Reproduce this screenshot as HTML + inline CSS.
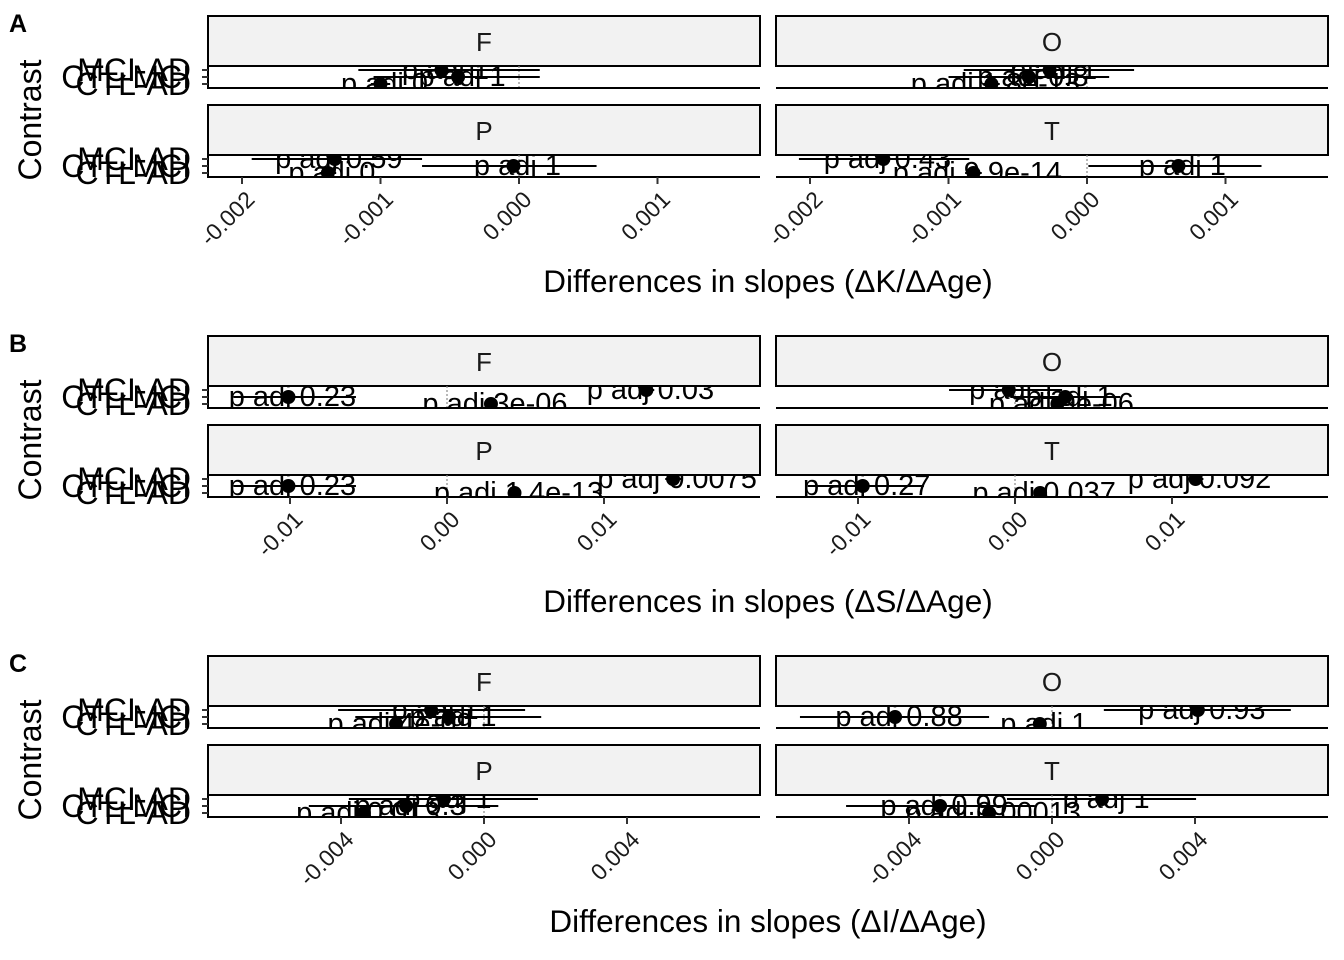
<!DOCTYPE html>
<html><head><meta charset="utf-8"><style>
html,body{margin:0;padding:0;background:#fff;}
svg{display:block;font-family:"Liberation Sans",Arial,sans-serif;}
</style></head><body>
<svg id="chart" width="1344" height="960" viewBox="0 0 1344 960" xmlns="http://www.w3.org/2000/svg"></svg>
<script>
// Categories (top to bottom rows)
const contrasts = ["MCI-AD", "CTL-MCI", "CTL-AD"];
const facets = ["F", "O", "P", "T"];
const sections = ["A", "B", "C"];
const axisTitles = ["Differences in slopes (\u0394K/\u0394Age)", "Differences in slopes (\u0394S/\u0394Age)", "Differences in slopes (\u0394I/\u0394Age)"];
const tickValsA = [-0.002, -0.001, 0.000, 0.001];
const tickLabelsA = ["-0.002", "-0.001", "0.000", "0.001"];
const tickValsB = [-0.01, 0.00, 0.01];
const tickLabelsB = ["-0.01", "0.00", "0.01"];
const tickValsC = [-0.004, 0.000, 0.004];
const tickLabelsC = ["-0.004", "0.000", "0.004"];
// Section A estimates / CI per facet (rows: MCI-AD, CTL-MCI, CTL-AD)
const estA_F = [-0.00056, -0.00044, -0.00100];
const loA_F = [-0.00116, -0.00105, -0.00107];
const hiA_F = [0.00015, 0.00015, -0.00093];
const labA_F = ["p adj 1", "p adj 1", "p adj 0"];
const estA_O = [-0.00027, -0.00042, -0.00069];
const loA_O = [-0.00089, -0.00100, -0.00075];
const hiA_O = [0.00034, 0.00016, -0.00063];
const labA_O = ["p adj 1", "p adj 0.8", "p adj 1.8e-13"];
const estA_P = [-0.00133, -0.00004, -0.00138];
const loA_P = [-0.00193, -0.00070, -0.00144];
const hiA_P = [-0.00070, 0.00056, -0.00132];
const labA_P = ["p adj 0.59", "p adj 1", "p adj 0"];
const estA_T = [-0.00147, 0.00066, -0.00082];
const loA_T = [-0.00208, 0.00001, -0.00088];
const hiA_T = [-0.00085, 0.00126, -0.00076];
const labA_T = ["p adj 0.43", "p adj 1", "p adj 9.9e-14"];
// Section B
const estB_F = [0.0127, -0.0101, 0.0028];
const loB_F = [0.0122, -0.0136, 0.0024];
const hiB_F = [0.0132, -0.0058, 0.0032];
const labB_F = ["p adj 0.03", "p adj 0.23", "p adj 3e-06"];
const estB_O = [-0.0004, 0.0032, 0.0027];
const loB_O = [-0.0042, -0.0003, 0.0023];
const hiB_O = [0.0030, 0.0067, 0.0031];
const labB_O = ["p adj 1", "p adj 1", "p adj 9e-06"];
const estB_P = [0.0144, -0.0101, 0.0043];
const loB_P = [0.0139, -0.0136, 0.0039];
const hiB_P = [0.0149, -0.0058, 0.0047];
const labB_P = ["p adj 0.0075", "p adj 0.23", "p adj 1.4e-13"];
const estB_T = [0.0115, -0.0097, 0.0016];
const loB_T = [0.0110, -0.0132, 0.0012];
const hiB_T = [0.0120, -0.0058, 0.0020];
const labB_T = ["p adj 0.092", "p adj 0.27", "p adj 0.037"];
// Section C
const estC_F = [-0.00148, -0.00098, -0.00246];
const loC_F = [-0.00408, -0.00360, -0.00260];
const hiC_F = [0.00115, 0.00160, -0.00232];
const labC_F = ["p adj 1", "p adj 1", "p adj 4e-09"];
const estC_O = [0.00408, -0.00439, -0.00034];
const loC_O = [0.00145, -0.00705, -0.00048];
const hiC_O = [0.00668, -0.00176, -0.00020];
const labC_O = ["p adj 0.93", "p adj 0.88", "p adj 1"];
const estC_P = [-0.00112, -0.00218, -0.00336];
const loC_P = [-0.00378, -0.00490, -0.00350];
const hiC_P = [0.00151, 0.00040, -0.00322];
const labC_P = ["p adj 1", "p adj 0.3", "p adj 0.013"];
const estC_T = [0.00140, -0.00313, -0.00176];
const loC_T = [-0.00126, -0.00576, -0.00190];
const hiC_T = [0.00403, -0.00048, -0.00162];
const labC_T = ["p adj 1", "p adj 0.99", "p adj 0.00013"];

const NS = "http://www.w3.org/2000/svg";
const svg = document.getElementById("chart");
function mk(tag, attrs, parent, text) {
  const e = document.createElementNS(NS, tag);
  for (const k in attrs) e.setAttribute(k, attrs[k]);
  if (text !== undefined) e.textContent = text;
  (parent || svg).appendChild(e);
  return e;
}
const secData = [
  {ticks: tickValsA, labels: tickLabelsA, pxPerUnit: 138.5 / 0.001, zero: 519,
   panels: {F: [estA_F, loA_F, hiA_F, labA_F], O: [estA_O, loA_O, hiA_O, labA_O], P: [estA_P, loA_P, hiA_P, labA_P], T: [estA_T, loA_T, hiA_T, labA_T]}},
  {ticks: tickValsB, labels: tickLabelsB, pxPerUnit: 157 / 0.01, zero: 447,
   panels: {F: [estB_F, loB_F, hiB_F, labB_F], O: [estB_O, loB_O, hiB_O, labB_O], P: [estB_P, loB_P, hiB_P, labB_P], T: [estB_T, loB_T, hiB_T, labB_T]}},
  {ticks: tickValsC, labels: tickLabelsC, pxPerUnit: 143 / 0.004, zero: 484,
   panels: {F: [estC_F, loC_F, hiC_F, labC_F], O: [estC_O, loC_O, hiC_O, labC_O], P: [estC_P, loC_P, hiC_P, labC_P], T: [estC_T, loC_T, hiC_T, labC_T]}}
];
const colX = [208, 776], colW = 552, colShift = 568;
let clipId = 0;
sections.forEach((sec, si) => {
  const o = si * 320;
  const sd = secData[si];
  const g = mk("g", {});
  
  
  const lt = mk("text", {x: 9, y: o + 32, "font-size": 25, "font-weight": "bold"}, g, sec);
  
  
  const yt = mk("text", {x: 0, y: 0, "font-size": 32, "text-anchor": "middle", transform: "translate(41," + (o + 120) + ") rotate(-90)"}, g, "Contrast");
  
  
  const xt = mk("text", {x: 768, y: o + 292, "font-size": 31.5, "text-anchor": "middle"}, g, axisTitles[si]);
  
  
  facets.forEach((f, fi) => {
    const col = fi % 2, row = Math.floor(fi / 2);
    const px = colX[col];
    const sTop = o + 16 + row * 89;
    const pTop = sTop + 50, pBot = pTop + 22;
    const xs = v => sd.zero + col * colShift + v * sd.pxPerUnit;
    const rowY = i => pTop + 4 + i * 7;
    const pg = mk("g", {}, g);
    
    
    const st = mk("rect", {x: px, y: sTop, width: colW, height: 50, fill: "#f2f2f2", stroke: "#000", "stroke-width": 2}, pg);
    
    
    const stx = mk("text", {x: px + colW / 2, y: sTop + 35, "font-size": 26, "text-anchor": "middle", fill: "#1a1a1a"}, pg, f);
    
    
    const cid = "clip" + (clipId++);
    const cp = mk("clipPath", {id: cid}, pg);
    mk("rect", {x: px, y: pTop, width: colW, height: 22}, cp);
    const zl = mk("line", {x1: xs(0), x2: xs(0), y1: pTop, y2: pBot, stroke: "#888", "stroke-width": 1.2, "stroke-dasharray": "2,2"}, pg);
    
    
    const d = sd.panels[f];
    const cg = mk("g", {"clip-path": "url(#" + cid + ")"}, pg);
    contrasts.forEach((c, i) => {
      const y = rowY(i);
      const eb = mk("line", {x1: xs(d[1][i]), x2: xs(d[2][i]), y1: y, y2: y, stroke: "#000", "stroke-width": 2}, cg);
      
      
      const pt = mk("circle", {cx: xs(d[0][i]), cy: y, r: 7, fill: "#000"}, cg);
      
      
      const tl = mk("text", {x: xs(d[0][i]) + 4, y: y + 9, "font-size": 29, "text-anchor": "middle"}, cg, d[3][i]);
      
      
    });
    const bl = mk("line", {x1: px, x2: px + colW, y1: pBot, y2: pBot, stroke: "#000", "stroke-width": 2}, pg);
    
    
    if (col === 0) {
      const ll = mk("line", {x1: px, x2: px, y1: pTop, y2: pBot + 1, stroke: "#000", "stroke-width": 2}, pg);
      
      
      contrasts.forEach((c, i) => {
        const y = rowY(i);
        mk("line", {x1: px - 6, x2: px, y1: y, y2: y, stroke: "#333", "stroke-width": 2}, pg);
        const yl = mk("text", {x: px - 17, y: y + 11, "font-size": 32, "text-anchor": "end"}, pg, c);
        
        
      });
    }
    if (row === 1) {
      sd.ticks.forEach((t, ti) => {
        const x = xs(t);
        const tk = mk("line", {x1: x, x2: x, y1: pBot, y2: pBot + 7, stroke: "#333", "stroke-width": 2}, pg);
        
        
        const tx = mk("text", {x: 0, y: 0, "font-size": 23, "text-anchor": "end", fill: "#1a1a1a", transform: "translate(" + (x + 14) + "," + (pBot + 24) + ") rotate(-45)"}, pg, sd.labels[ti]);
        
        
      });
    }
  });
});
</script>
</body></html>
